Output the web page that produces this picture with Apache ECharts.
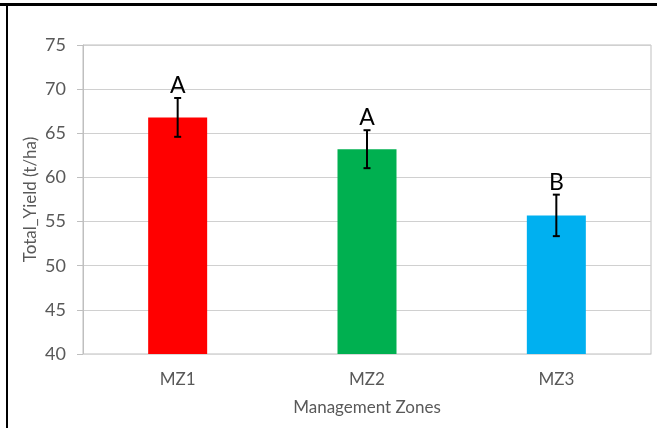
<!DOCTYPE html>
<html>
<head>
<meta charset="utf-8">
<script src="https://cdn.jsdelivr.net/npm/echarts@6/dist/echarts.min.js"></script>
<style>
  html, body { margin: 0; padding: 0; background: #fff; }
  #chart { width: 657px; height: 428px; }
</style>
</head>
<body>
<div id="chart"></div>
<script>
// Mean total yield per management zone, with standard error and group letters
const zones = ['MZ1', 'MZ2', 'MZ3'];
const yieldMeans = [66.8, 63.2, 55.7];
const yieldErrors = [2.2, 2.15, 2.35];
const groupLetters = ['A', 'A', 'B'];
const barColors = ['#ff0000', '#00b050', '#00b0f0'];
const yTicks = { min: 40, max: 75, interval: 5 };

const FONT = 'Lato, "Open Sans", sans-serif';
const chart = echarts.init(document.getElementById('chart'), null, { renderer: 'canvas' });

chart.setOption({
  animation: false,
  backgroundColor: '#ffffff',
  grid: {
    left: 83, right: 6, top: 45, bottom: 74,
    show: true, borderColor: '#bfbfbf', borderWidth: 1
  },
  xAxis: {
    type: 'category',
    data: zones,
    name: 'Management Zones',
    nameLocation: 'middle',
    nameGap: 45,
    nameMoveOverlap: false,
    nameTextStyle: { fontFamily: FONT, fontSize: 17, color: '#595959' },
    axisLine: { lineStyle: { color: '#d9d9d9' } },
    axisTick: { show: false },
    axisLabel: { fontFamily: FONT, fontSize: 17, color: '#595959', margin: 17 }
  },
  yAxis: {
    type: 'value',
    min: yTicks.min, max: yTicks.max, interval: yTicks.interval,
    name: 'Total_Yield (t/ha)',
    nameLocation: 'middle',
    nameGap: 44,
    nameMoveOverlap: false,
    nameRotate: 90,
    nameTextStyle: { fontFamily: FONT, fontSize: 17, color: '#595959' },
    axisLine: { show: true, lineStyle: { color: '#bfbfbf' } },
    axisTick: { show: true, inside: false, length: 6, lineStyle: { color: '#bfbfbf' } },
    axisLabel: { fontFamily: FONT, fontSize: 18, color: '#595959', margin: 17 },
    splitLine: { lineStyle: { color: '#d0d0d0', width: 1 } }
  },
  series: [
    {
      type: 'bar',
      barWidth: 59,
      data: yieldMeans.map((v, i) => ({ value: v, itemStyle: { color: barColors[i] } })),
      z: 2
    },
    {
      // error bars with the significance letter above each
      type: 'custom',
      z: 5,
      data: yieldMeans.map((v, i) => [i, v, yieldErrors[i], groupLetters[i]]),
      renderItem: function (params, api) {
        const x = api.value(0);
        const mean = api.value(1);
        const err = api.value(2);
        const top = api.coord([x, mean + err]);
        const bot = api.coord([x, mean - err]);
        const cap = 3.5;
        const style = { stroke: '#000', lineWidth: 2 };
        return {
          type: 'group',
          children: [
            { type: 'line', shape: { x1: top[0], y1: top[1], x2: bot[0], y2: bot[1] }, style: style },
            { type: 'line', shape: { x1: top[0] - cap, y1: top[1], x2: top[0] + cap, y2: top[1] }, style: style },
            { type: 'line', shape: { x1: bot[0] - cap, y1: bot[1], x2: bot[0] + cap, y2: bot[1] }, style: style },
            {
              type: 'text',
              style: {
                x: top[0], y: top[1] - 1,
                text: groupLetters[params.dataIndex],
                fill: '#000',
                font: '23px ' + FONT,
                align: 'center',
                verticalAlign: 'bottom'
              }
            }
          ]
        };
      }
    }
  ],
  graphic: [
    // frame edges of the surrounding panel
    { type: 'rect', shape: { x: 0, y: 3, width: 657, height: 3 }, style: { fill: '#000' } },
    { type: 'rect', shape: { x: 6, y: 5, width: 2, height: 423 }, style: { fill: '#000' } }
  ]
});
</script>
</body>
</html>
